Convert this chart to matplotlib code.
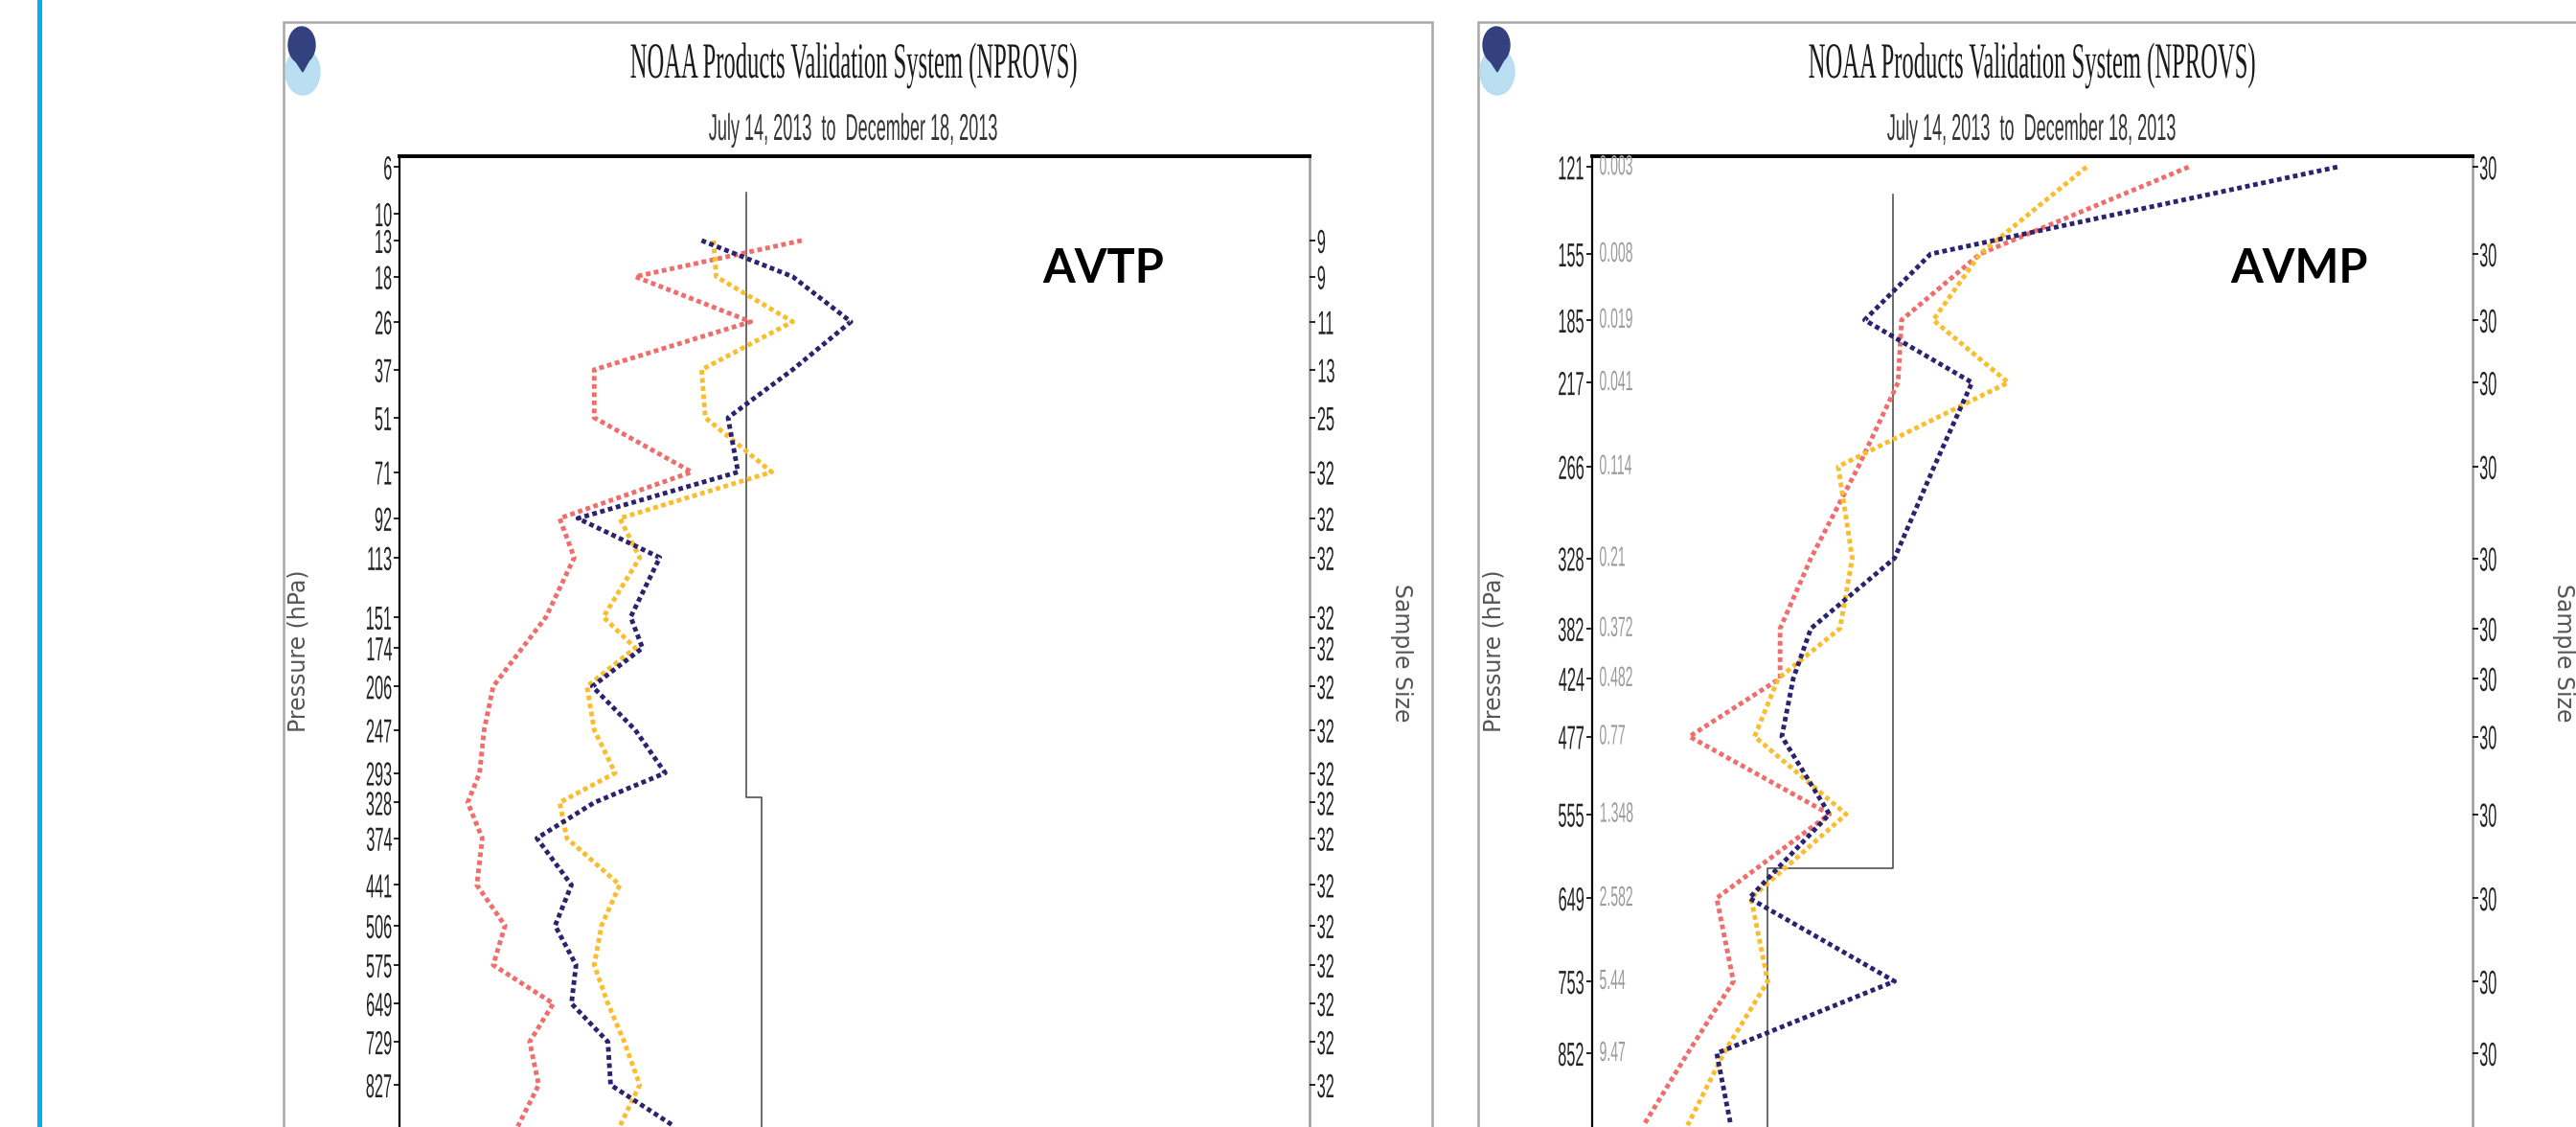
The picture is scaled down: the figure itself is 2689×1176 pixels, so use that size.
import numpy as np
import matplotlib
matplotlib.use("Agg")
import matplotlib.pyplot as plt
from matplotlib.patches import Rectangle, Ellipse, Polygon
from matplotlib.patheffects import AbstractPathEffect
from matplotlib.transforms import Affine2D, blended_transform_factory

# ---- AVTP (temperature) panel ----
avtp_p = [13, 18, 26, 37, 51, 71, 92, 113, 151, 174, 206, 247, 293, 328,
          374, 441, 506, 575, 649, 729, 827, 930]
avtp_red = [4.42, 2.59, 3.86, 2.14, 2.14, 3.21, 1.76, 1.92, 1.61, 1.35, 1.03,
            0.93, 0.88, 0.75, 0.91, 0.85, 1.16, 1.03, 1.69, 1.43, 1.53, 1.30]
avtp_yellow = [3.45, 3.48, 4.32, 3.32, 3.36, 4.09, 2.42, 2.64, 2.24, 2.59, 2.06,
               2.14, 2.37, 1.76, 1.84, 2.42, 2.22, 2.14, 2.29, 2.47, 2.64, 2.42]
avtp_navy = [3.32, 4.32, 4.96, 4.32, 3.61, 3.72, 1.96, 2.86, 2.54, 2.67, 2.12,
             2.59, 2.92, 2.14, 1.51, 1.89, 1.71, 1.94, 1.89, 2.29, 2.32, 3.02]
avtp_ticks = [6, 10, 13, 18, 26, 37, 51, 71, 92, 113, 151, 174, 206, 247,
              293, 328, 374, 441, 506, 575, 649, 729, 827]
avtp_n_p = [13, 18, 26, 37, 51, 71, 92, 113, 151, 174, 206, 247, 293, 328,
            374, 441, 506, 575, 649, 729, 827]
avtp_n = [9, 9, 11, 13, 25, 32, 32, 32, 32, 32, 32, 32, 32, 32,
          32, 32, 32, 32, 32, 32, 32]
avtp_ref_p = [8, 322, 322, 1100]
avtp_ref_x = [3.81, 3.81, 3.98, 3.98]

# ---- AVMP (moisture) panel ----
avmp_p = [121, 155, 185, 217, 266, 328, 382, 424, 477, 555, 649, 753, 852, 960]
avmp_red = [6.78, 4.41, 3.52, 3.48, 3.03, 2.49, 2.14, 2.14, 1.11, 2.70, 1.42,
            1.61, 1.09, 0.59]
avmp_yellow = [5.62, 4.41, 3.88, 4.73, 2.80, 2.96, 2.82, 2.12, 1.85, 2.89, 1.81,
               2.00, 1.50, 1.09]
avmp_navy = [8.47, 3.85, 3.10, 4.32, 3.89, 3.44, 2.49, 2.29, 2.16, 2.70, 1.79,
             3.44, 1.42, 1.58]
avmp_ticks = [121, 155, 185, 217, 266, 328, 382, 424, 477, 555, 649, 753, 852]
avmp_q = ['0.003', '0.008', '0.019', '0.041', '0.114', '0.21', '0.372',
          '0.482', '0.77', '1.348', '2.582', '5.44', '9.47']
avmp_n = [30, 30, 30, 30, 30, 30, 30, 30, 30, 30, 30, 30, 30]
avmp_ref_p = [131, 614, 614, 1100]
avmp_ref_x = [3.42, 3.42, 2.00, 2.00]

RED, YEL, NAVY = '#ef6d6a', '#fbbd2c', '#2b2270'

W, H = 2689, 1176
fig = plt.figure(figsize=(W / 100, H / 100), dpi=100)


def fx(x):
    return x / W


def fy(y):
    return 1 - y / H


class Squeeze(AbstractPathEffect):
    # narrow the glyphs horizontally, like the condensed fonts of the original
    def __init__(self, sx, anchor='center'):
        super().__init__()
        self.sx = sx
        self.anchor = anchor

    def draw_path(self, renderer, gc, tpath, affine, rgbFace=None):
        ext = tpath.get_extents(affine)
        x0 = {'left': ext.x0, 'center': (ext.x0 + ext.x1) / 2, 'right': ext.x1}[self.anchor]
        t = affine + Affine2D().translate(-x0, 0).scale(self.sx, 1).translate(x0, 0)
        renderer.draw_path(gc, tpath, t, rgbFace)


def fwd(p):
    return np.power(np.clip(p, 1e-6, None), 0.286)


def inv(t):
    return np.power(np.clip(t, 1e-6, None), 1 / 0.286)


def logo(x, y):
    light = Ellipse((fx(x + 18), fy(y + 50)), 36 / W, 48 / H,
                    transform=fig.transFigure, color='#b3dcf2', alpha=0.9)
    dark = Ellipse((fx(x + 17), fy(y + 22)), 28 / W, 38 / H,
                   transform=fig.transFigure, color='#34417f')
    tip = Polygon([[fx(x + 5), fy(y + 30)], [fx(x + 29), fy(y + 30)], [fx(x + 18), fy(y + 50)]],
                  closed=True, transform=fig.transFigure, color='#34417f')
    for a in (light, dark, tip):
        fig.add_artist(a)


def panel(x0, x1, fx0, fx1, ybot, ptop, ticks, p, red, yel, navy, ref_p, ref_x,
          rp, rlabels, title_x, name, name_x, plab_x, slab_x):
    # outer gray frame
    fig.add_artist(Rectangle((fx(fx0), fy(1300)), (fx1 - fx0) / W, (1300 - 23) / H,
                             transform=fig.transFigure, fill=False, ec='#a8a8a8', lw=1.8))
    logo(fx0 + 2, 25)
    fig.text(fx(title_x), fy(81), 'NOAA Products Validation System (NPROVS)', ha='center',
             va='baseline', family=['Liberation Serif', 'DejaVu Serif'], size=38,
             color='#1a1a1a', path_effects=[Squeeze(0.466)])
    fig.text(fx(title_x), fy(146), 'July 14, 2013  to  December 18, 2013', ha='center',
             va='baseline', family=['Liberation Sans', 'DejaVu Sans'], size=28,
             color='#333333', path_effects=[Squeeze(0.465)])

    ax = fig.add_axes([fx(x0), fy(ybot), (x1 - x0) / W, (ybot - 163) / H])
    ax.set_yscale('function', functions=(fwd, inv))
    ax.set_ylim(1100, ptop)
    ax.set_xlim(0, 10)
    ax.set_xticks([])

    ax.plot(ref_x, ref_p, color='#444444', lw=1.1)
    for xs, c in ((red, RED), (yel, YEL), (navy, NAVY)):
        ax.plot(xs, p, color=c, lw=3.5, ls=(0, (1.0, 0.75)), dash_capstyle='butt')

    ax.set_yticks(ticks, [str(t) for t in ticks])
    ax.tick_params(axis='y', direction='out', length=4, width=1.2, pad=1,
                   labelsize=25, labelcolor='#222222')
    for lb in ax.get_yticklabels():
        lb.set_fontfamily(['Liberation Sans', 'DejaVu Sans'])
        lb.set_path_effects([Squeeze(0.47, 'right')])

    ax.spines['left'].set_linestyle((0, (2, 1)))
    ax.spines['left'].set_linewidth(1.6)
    ax.spines['top'].set_linewidth(2.8)
    ax.spines['right'].set_color('#9a9a9a')
    ax.spines['right'].set_linewidth(1.8)
    ax.spines['bottom'].set_visible(False)

    ax2 = ax.twinx()
    ax2.set_yscale('function', functions=(fwd, inv))
    ax2.set_ylim(1100, ptop)
    ax2.set_yticks(rp, [str(n) for n in rlabels])
    ax2.tick_params(axis='y', direction='out', length=4, width=1.2, pad=1,
                    labelsize=25, labelcolor='#222222')
    for lb in ax2.get_yticklabels():
        lb.set_fontfamily(['Liberation Sans', 'DejaVu Sans'])
        lb.set_path_effects([Squeeze(0.47, 'left')])
    for s in ax2.spines.values():
        s.set_visible(False)

    fig.text(fx(name_x), fy(295), name, ha='center', va='baseline',
             family=['Lato', 'DejaVu Sans'], weight='bold', size=35, color='black')
    fig.text(fx(plab_x), fy(679), 'Pressure (hPa)', rotation=90, ha='center', va='center',
             family='DejaVu Sans', size=17, color='#555555')
    fig.text(fx(slab_x), fy(681), 'Sample Size', rotation=-90, ha='center', va='center',
             family='DejaVu Sans', size=17, color='#555555')
    return ax


# cyan bar at the left edge
fig.add_artist(Rectangle((fx(38.5), 0), 5.5 / W, 1, transform=fig.transFigure,
                         color='#00b0f0', lw=0))

panel(417, 1367, 296, 1495, 1239.8, 5.27, avtp_ticks, avtp_p,
      avtp_red, avtp_yellow, avtp_navy, avtp_ref_p, avtp_ref_x,
      avtp_n_p, avtp_n, 891, 'AVTP', 1152, 312, 1463)

ax_m = panel(1661.5, 2580.5, 1543, 2800, 1262.9, 117.2, avmp_ticks, avmp_p,
             avmp_red, avmp_yellow, avmp_navy, avmp_ref_p, avmp_ref_x,
             avmp_ticks, avmp_n, 2121, 'AVMP', 2400, 1560, 2676)

# mixing-ratio values printed inside the moisture panel
tr = blended_transform_factory(ax_m.transAxes, ax_m.transData)
for pv, q in zip(avmp_ticks, avmp_q):
    ax_m.text(0.008, pv, q, transform=tr, ha='left', va='center', size=21,
              family=['Liberation Sans', 'DejaVu Sans'], color='#9a9a9a',
              path_effects=[Squeeze(0.48, 'left')])

fig.savefig('out.png', dpi=100)
